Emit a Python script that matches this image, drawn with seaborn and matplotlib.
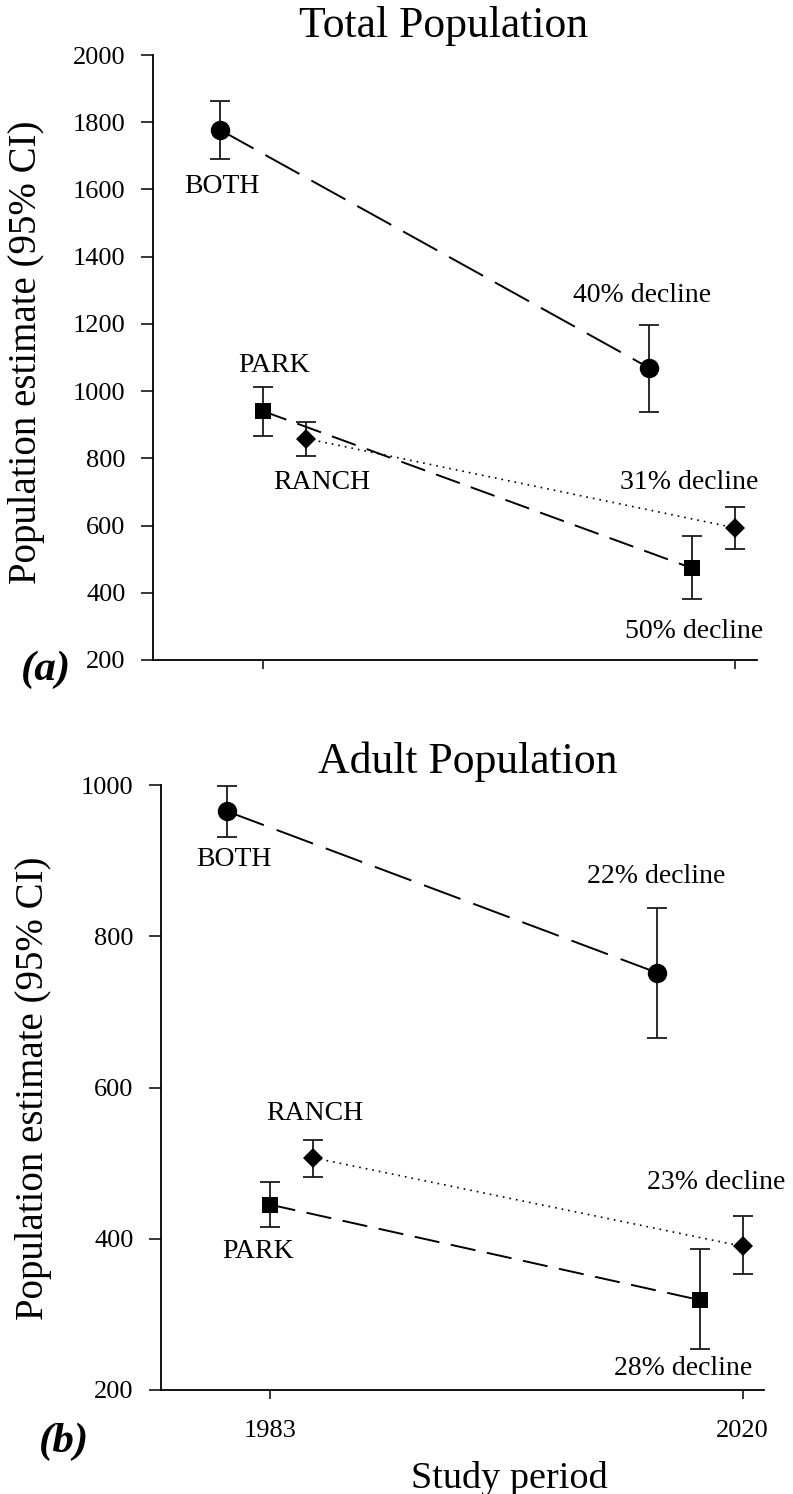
import matplotlib
matplotlib.use("Agg")
import matplotlib.pyplot as plt
import numpy as np
import pandas as pd
import seaborn as sns

# ---- data -------------------------------------------------------------
groups = ["BOTH", "PARK", "RANCH"]
years = [1983, 2020]

# Total population: estimate and 95% CI, in group order
total_mean_1983 = [1778, 941, 859]
total_mean_2020 = [1069, 473, 593]
total_lo_1983 = [1690, 867, 807]
total_lo_2020 = [937, 381, 531]
total_hi_1983 = [1864, 1012, 909]
total_hi_2020 = [1198, 568, 654]

# Adult population: estimate and 95% CI, in group order
adult_mean_1983 = [965, 445, 507]
adult_mean_2020 = [752, 319, 390]
adult_lo_1983 = [931, 416, 481]
adult_lo_2020 = [665, 254, 353]
adult_hi_1983 = [999, 475, 531]
adult_hi_2020 = [837, 386, 430]

panel_titles = ["Total Population", "Adult Population"]
panel_letters = ["(a)", "(b)"]
y_ticks_total = [200, 400, 600, 800, 1000, 1200, 1400, 1600, 1800, 2000]
y_ticks_adult = [200, 400, 600, 800, 1000]
x_tick_labels = ["1983", "2020"]


def panel_frame(m83, m20, lo83, lo20, hi83, hi20):
    rows = []
    for i, g in enumerate(groups):
        rows.append(dict(group=g, year=years[0], estimate=m83[i], lo=lo83[i], hi=hi83[i]))
        rows.append(dict(group=g, year=years[1], estimate=m20[i], lo=lo20[i], hi=hi20[i]))
    return pd.DataFrame(rows)


total_df = panel_frame(total_mean_1983, total_mean_2020, total_lo_1983,
                       total_lo_2020, total_hi_1983, total_hi_2020)
adult_df = panel_frame(adult_mean_1983, adult_mean_2020, adult_lo_1983,
                       adult_lo_2020, adult_hi_1983, adult_hi_2020)

# ---- styling ----------------------------------------------------------
sns.set_theme(style="ticks", rc={
    "text.color": "black", "axes.labelcolor": "black",
    "xtick.color": "black", "ytick.color": "black",
    "axes.edgecolor": "black",
})
plt.rcParams["font.family"] = ["Liberation Serif", "DejaVu Serif"]

# horizontal dodge of the three groups within each study period
dodge_step = 3.37
dodge = {1983: {"BOTH": -1, "PARK": 0, "RANCH": 1},
         2020: {"BOTH": -2, "PARK": -1, "RANCH": 0}}

styles = {
    "BOTH": dict(marker="o", markersize=14, linestyle=(0, (20, 7)), linewidth=1.4),
    "PARK": dict(marker="s", markersize=11.5, linestyle=(0, (13, 6)), linewidth=1.4),
    "RANCH": dict(marker="D", markersize=10, linestyle=(0, (1, 3)), linewidth=1.2),
}

for df in (total_df, adult_df):
    df["x"] = [yr + dodge_step * dodge[yr][g] for yr, g in zip(df["year"], df["group"])]

W, H = 793, 1494
fig = plt.figure(figsize=(W / 100, H / 100), dpi=100)


def px_axes(left, top, right, bottom):
    return fig.add_axes([left / W, 1 - bottom / H, (right - left) / W, (bottom - top) / H])


ax_top = px_axes(152.7, 55, 757, 660)
ax_bot = px_axes(160.7, 785, 764.3, 1390)

# label anchor positions (data coordinates) for each panel
group_label_pos = [
    {"BOTH": (1979.8, 1608), "PARK": (1983.9, 1077), "RANCH": (1987.6, 729)},
    {"BOTH": (1980.1, 902), "PARK": (1982.0, 383), "RANCH": (1986.5, 565)},
]
decline_label_pos = [
    {"BOTH": (2012.7, 1283), "PARK": (2016.8, 286), "RANCH": (2016.4, 729)},
    {"BOTH": (2013.2, 879), "PARK": (2015.3, 229), "RANCH": (2017.9, 474)},
]

panels = [(ax_top, total_df, y_ticks_total), (ax_bot, adult_df, y_ticks_adult)]

for k, (ax, df, yt) in enumerate(panels):
    for g in groups:
        sub = df[df["group"] == g].sort_values("x")
        st = styles[g]
        ax.errorbar(sub["x"], sub["estimate"],
                    yerr=[sub["estimate"] - sub["lo"], sub["hi"] - sub["estimate"]],
                    fmt="none", ecolor="#1a1a1a", elinewidth=1.3,
                    capsize=7, capthick=1.3, zorder=2)
        sns.lineplot(data=sub, x="x", y="estimate", ax=ax, color="black",
                     estimator=None, errorbar=None, sort=True,
                     linestyle=st["linestyle"], linewidth=st["linewidth"],
                     marker=st["marker"], markersize=st["markersize"],
                     markeredgewidth=0, markerfacecolor="black", zorder=3)

        # group name and percent decline
        gx, gy = group_label_pos[k][g]
        ax.text(gx, gy, g, ha="center", va="center", fontsize=20)
        m0 = sub.loc[sub["year"] == years[0], "estimate"].iloc[0]
        m1 = sub.loc[sub["year"] == years[1], "estimate"].iloc[0]
        pct = int(round((1 - m1 / m0) * 100))
        dx, dy = decline_label_pos[k][g]
        ax.text(dx, dy, f"{pct}% decline", ha="center", va="center", fontsize=20)

    ax.set_xlim(1974.4, 2021.7)
    ax.set_ylim(yt[0], yt[-1])
    ax.set_yticks(yt)
    ax.set_xticks(years)
    ax.set_xlabel("")
    ax.set_ylabel("")
    sns.despine(ax=ax)
    for sp in ("left", "bottom"):
        ax.spines[sp].set_linewidth(1.3)
        ax.spines[sp].set_color("black")
    ax.tick_params(axis="y", direction="out", length=8.5, width=1.1,
                   pad=11, labelsize=19)
    ax.tick_params(axis="x", direction="out", length=6.5, width=1.1,
                   pad=15, labelsize=19)

ax_top.tick_params(axis="x", labelbottom=False)
ax_bot.set_xticklabels(x_tick_labels)

# titles, axis labels, panel letters
fig.text(444 / W, 1 - 37 / H, panel_titles[0], ha="center", va="baseline", fontsize=31.5)
fig.text(468 / W, 1 - 773 / H, panel_titles[1], ha="center", va="baseline", fontsize=31.5)
fig.text(27 / W, 1 - 352 / H, "Population estimate (95% CI)", rotation=90,
         ha="center", va="center", fontsize=28)
fig.text(34 / W, 1 - 1088 / H, "Population estimate (95% CI)", rotation=90,
         ha="center", va="center", fontsize=28)
fig.text(509 / W, 1 - 1488 / H, "Study period", ha="center", va="baseline", fontsize=27.5)
fig.text(46 / W, 1 - 670 / H, panel_letters[0], ha="center", va="center",
         fontsize=31, fontweight="bold", fontstyle="italic")
fig.text(64 / W, 1 - 1442 / H, panel_letters[1], ha="center", va="center",
         fontsize=31, fontweight="bold", fontstyle="italic")

fig.savefig("out.png", dpi=100, facecolor="white")
